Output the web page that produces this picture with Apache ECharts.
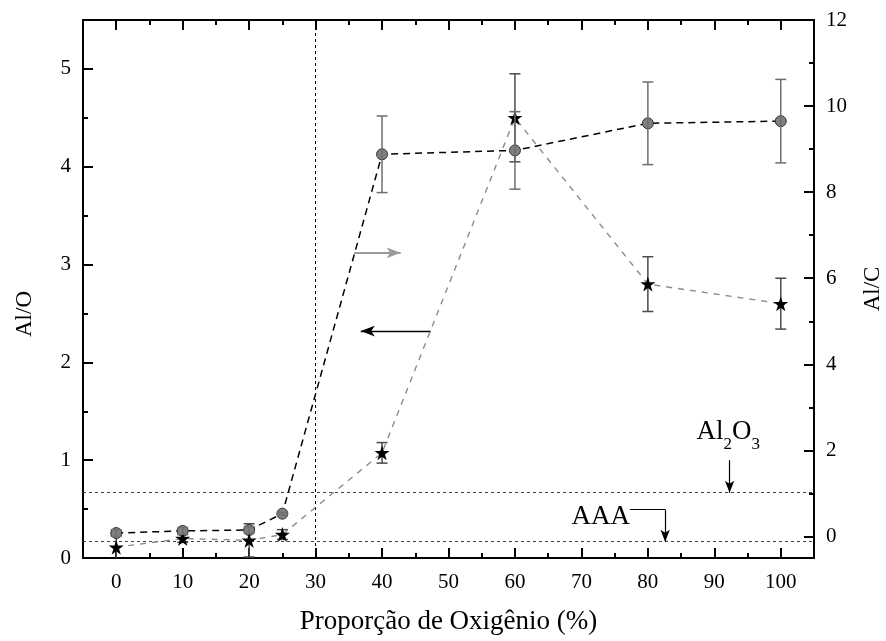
<!DOCTYPE html>
<html>
<head>
<meta charset="utf-8">
<script src="https://cdn.jsdelivr.net/npm/echarts@6/dist/echarts.min.js"></script>
<style>
  html, body { margin: 0; padding: 0; background: #fff; }
  #chart { width: 886px; height: 641px; }
</style>
</head>
<body>
<div id="chart"></div>
<script>
// Oxygen proportion in the gas mixture (%)
const oxygen = [0, 10, 20, 25, 40, 60, 80, 100];

// Al/O ratio (left axis) with its uncertainty
const alO = [0.11, 0.20, 0.18, 0.24, 1.075, 4.50, 2.80, 2.60];
const alOErr = [0.12, 0.04, 0.17, 0.05, 0.105, 0.45, 0.28, 0.26];

// Al/C ratio (right axis) with its uncertainty
const alC = [0.08, 0.13, 0.15, 0.53, 8.88, 8.97, 9.60, 9.65];
const alCErr = [0.08, 0.08, 0.08, 0.03, 0.89, 0.90, 0.96, 0.97];

// Stoichiometric Al/O references
const alOAl2O3 = 2 / 3;
const alOAAA = 1 / 6;
const transitionOxygen = 30;

// Tick positions
const xMajor = [0, 10, 20, 30, 40, 50, 60, 70, 80, 90, 100];
const xMinor = [5, 15, 25, 35, 45, 55, 65, 75, 85, 95];
const leftMajor = [0, 1, 2, 3, 4, 5];
const leftMinor = [0.5, 1.5, 2.5, 3.5, 4.5];
const rightMajor = [0, 2, 4, 6, 8, 10, 12];
const rightMinor = [1, 3, 5, 7, 9, 11];

const FONT = "'Liberation Serif', 'Times New Roman', serif";
const STAR = 'path://M50,0 L61.2,34.5 L97.6,34.5 L68.2,55.9 L79.4,90.5 L50,69.1 L20.6,90.5 L31.8,55.9 L2.4,34.5 L38.8,34.5 Z';

const xRange = { min: -5, max: 105 };
const leftRange = { min: 0, max: 5.5 };
const rightRange = { min: -0.5, max: 12 };

function xAxisDef(position, ticks, len, showLine, showLabel, extra) {
  return Object.assign({
    type: 'value', position: position, min: xRange.min, max: xRange.max,
    splitLine: { show: false },
    axisLine: { show: showLine, onZero: false, lineStyle: { color: '#000', width: 2 } },
    axisTick: { show: true, inside: true, length: len, customValues: ticks, lineStyle: { color: '#000', width: 2 } },
    axisLabel: showLabel ? { show: true, customValues: ticks, margin: 14, color: '#000', fontFamily: FONT, fontSize: 21 } : { show: false }
  }, extra || {});
}

function yAxisDef(position, range, ticks, len, showLine, showLabel, extra) {
  return Object.assign({
    type: 'value', position: position, min: range.min, max: range.max,
    splitLine: { show: false },
    axisLine: { show: showLine, onZero: false, lineStyle: { color: '#000', width: 2 } },
    axisTick: { show: true, inside: true, length: len, customValues: ticks, lineStyle: { color: '#000', width: 2 } },
    axisLabel: showLabel ? { show: true, customValues: ticks, margin: 12, color: '#000', fontFamily: FONT, fontSize: 21 } : { show: false }
  }, extra || {});
}

function errorBars(xs, ys, es, color, yAxisIndex, z) {
  return {
    type: 'custom',
    xAxisIndex: 0,
    yAxisIndex: yAxisIndex,
    data: xs.map((x, i) => [x, ys[i], es[i]]),
    encode: { x: 0, y: 1 },
    z: z,
    silent: true,
    renderItem: function (params, api) {
      const x = api.value(0), y = api.value(1), e = api.value(2);
      const cs = params.coordSys;
      const top = api.coord([x, y + e]);
      const bot = api.coord([x, y - e]);
      const yMin = cs.y, yMax = cs.y + cs.height;
      const t = Math.max(top[1], yMin), b = Math.min(bot[1], yMax);
      const hw = 5.5;
      const style = { stroke: color, lineWidth: 1.5 };
      const children = [{ type: 'line', shape: { x1: top[0], y1: t, x2: top[0], y2: b }, style: style }];
      if (top[1] >= yMin) children.push({ type: 'line', shape: { x1: top[0] - hw, y1: t, x2: top[0] + hw, y2: t }, style: style });
      if (bot[1] <= yMax) children.push({ type: 'line', shape: { x1: bot[0] - hw, y1: b, x2: bot[0] + hw, y2: b }, style: style });
      return { type: 'group', children: children };
    }
  };
}

const refLine = { color: '#444', type: [3, 3], width: 1 };

const option = {
  animation: false,
  backgroundColor: '#fff',
  grid: { left: 83, right: 72, top: 20, bottom: 83, containLabel: false, outerBoundsMode: 'none' },
  xAxis: [
    xAxisDef('bottom', xMajor, 10, true, true, {
      name: 'Proporção de Oxigênio (%)', nameLocation: 'middle', nameGap: 50,
      nameTextStyle: { color: '#000', fontFamily: FONT, fontSize: 27 }
    }),
    xAxisDef('bottom', xMinor, 5, false, false),
    xAxisDef('top', xMajor, 10, true, false),
    xAxisDef('top', xMinor, 5, false, false)
  ],
  yAxis: [
    yAxisDef('left', leftRange, leftMajor, 10, true, true, {
      name: 'Al/O', nameLocation: 'middle', nameGap: 47, nameRotate: 90,
      nameTextStyle: { color: '#000', fontFamily: FONT, fontSize: 23, padding: [0, 50, 0, 0] }
    }),
    yAxisDef('left', leftRange, leftMinor, 5, false, false),
    yAxisDef('right', rightRange, rightMajor, 10, true, true, {
      name: 'Al/C', nameLocation: 'middle', nameGap: 47, nameRotate: 90,
      nameTextStyle: { color: '#000', fontFamily: FONT, fontSize: 23 }
    }),
    yAxisDef('right', rightRange, rightMinor, 5, false, false)
  ],
  series: [
    {
      name: 'Al/C',
      type: 'line',
      xAxisIndex: 0, yAxisIndex: 2,
      data: oxygen.map((x, i) => [x, alC[i]]),
      symbol: 'circle', symbolSize: 11,
      lineStyle: { color: '#000', width: 1.5, type: [7, 5] },
      itemStyle: { color: '#808080', borderColor: '#333', borderWidth: 1 },
      z: 3
    },
    {
      name: 'Al/O',
      type: 'line',
      xAxisIndex: 0, yAxisIndex: 0,
      data: oxygen.map((x, i) => [x, alO[i]]),
      symbol: STAR, symbolSize: 15,
      lineStyle: { color: '#8c8c8c', width: 1.4, type: [6, 6] },
      itemStyle: { color: '#000' },
      z: 4,
      markLine: {
        silent: true,
        symbol: 'none',
        label: { show: false },
        z: 2,
        data: [
          { yAxis: alOAl2O3, lineStyle: refLine },
          { yAxis: alOAAA, lineStyle: refLine },
          { xAxis: transitionOxygen, lineStyle: { color: '#000', type: [3, 3], width: 1 } },
          // arrow pointing to the Al/C axis
          [
            { coord: [35.8, 3.12], symbol: 'none', lineStyle: { color: '#9a9a9a', width: 2, type: 'solid' } },
            { coord: [42.8, 3.12], symbol: 'arrow', symbolSize: [8, 14] }
          ],
          // arrow pointing to the Al/O axis
          [
            { coord: [47.3, 2.32], symbol: 'none', lineStyle: { color: '#000', width: 1.3, type: 'solid' } },
            { coord: [36.8, 2.32], symbol: 'arrow', symbolSize: [8, 14] }
          ],
          // Al2O3 pointer
          [
            { coord: [92.3, 1.0], symbol: 'none', lineStyle: { color: '#000', width: 1.2, type: 'solid' } },
            { coord: [92.3, alOAl2O3], symbol: 'arrow', symbolSize: [7, 12] }
          ],
          // AAA pointer (elbow)
          [
            { coord: [77.3, 0.495], symbol: 'none', lineStyle: { color: '#000', width: 1.2, type: 'solid' } },
            { coord: [82.6, 0.495], symbol: 'none' }
          ],
          [
            { coord: [82.6, 0.495], symbol: 'none', lineStyle: { color: '#000', width: 1.2, type: 'solid' } },
            { coord: [82.6, alOAAA], symbol: 'arrow', symbolSize: [7, 12] }
          ]
        ]
      },
      markPoint: {
        silent: true,
        symbol: 'rect', symbolSize: 0,
        data: [
          {
            coord: [92.1, 1.25],
            label: {
              show: true, position: 'inside', color: '#000', fontFamily: FONT,
              formatter: '{a|Al}{s|2}{a|O}{s|3}',
              rich: {
                a: { fontSize: 27, lineHeight: 34, verticalAlign: 'top', fontFamily: FONT, color: '#000' },
                s: { fontSize: 17, lineHeight: 16, verticalAlign: 'bottom', fontFamily: FONT, color: '#000' }
              }
            }
          },
          {
            coord: [72.9, 0.42],
            label: { show: true, position: 'inside', color: '#000', fontFamily: FONT, fontSize: 27, formatter: 'AAA' }
          }
        ]
      }
    },
    errorBars(oxygen, alO, alOErr, '#4a4a4a', 0, 2),
    errorBars(oxygen, alC, alCErr, '#6e6e6e', 2, 5)
  ]
};

const chart = echarts.init(document.getElementById('chart'), null, { renderer: 'canvas' });
chart.setOption(option);
</script>
</body>
</html>
